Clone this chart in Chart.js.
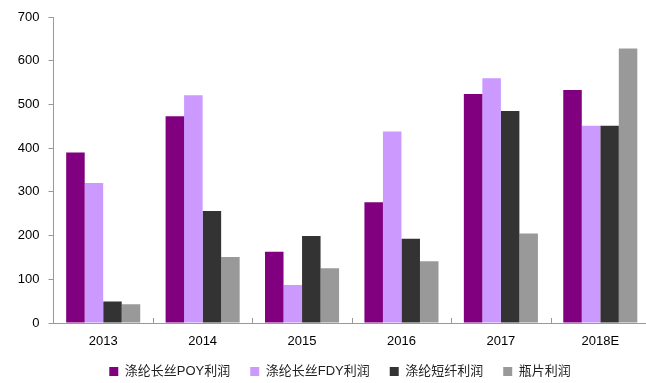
<!DOCTYPE html>
<html>
<head>
<meta charset="utf-8">
<script src="https://cdn.jsdelivr.net/npm/chart.js@4.4.1/dist/chart.umd.min.js"></script>
<style>
  html, body { margin: 0; padding: 0; overflow: hidden; background: #fff; }
  #wrap { width: 680px; height: 383px; }
</style>
</head>
<body>
<div id="wrap"><canvas id="c" width="680" height="383"></canvas></div>
<script>
// Profit by product line, per year (2018 is an estimate)
const years = ['2013', '2014', '2015', '2016', '2017', '2018E'];
const poyProfit = [390, 473, 163, 276, 524, 533];
const fdyProfit = [320, 521, 87, 438, 560, 451];
const stapleProfit = [49, 256, 199, 193, 485, 451];
const bottleProfit = [43, 151, 125, 141, 205, 628];
const yMin = 0, yMax = 700, yStep = 100;

const seriesNames = ['涤纶长丝POY利润', '涤纶长丝FDY利润', '涤纶短纤利润', '瓶片利润'];
const seriesColors = ['#800080', '#CC99FF', '#333333', '#999999'];
const seriesValues = [poyProfit, fdyProfit, stapleProfit, bottleProfit];

const axisColor = '#999999';
const latin = '"Liberation Sans", Arial, sans-serif';
const cjk = '"Liberation Sans", "Noto Sans CJK SC", sans-serif';

// Short upward tick marks at the category boundaries of the x axis
const categoryTicks = {
  id: 'categoryTicks',
  afterDatasetsDraw(chart) {
    const x = chart.scales.x;
    const ctx = chart.ctx;
    const n = chart.data.labels.length;
    const step = x.getPixelForValue(1) - x.getPixelForValue(0);
    const bottom = chart.chartArea.bottom;
    ctx.save();
    ctx.strokeStyle = axisColor;
    ctx.lineWidth = 1;
    for (let i = 1; i <= n; i++) {
      const px = Math.round(x.getPixelForValue(i) - step / 2) + 0.5;
      ctx.beginPath();
      ctx.moveTo(px, bottom);
      ctx.lineTo(px, bottom - 5);
      ctx.stroke();
    }
    ctx.restore();
  }
};

// Fixed legend band height at the bottom
const legendHeight = {
  id: 'legendHeight',
  beforeInit(chart) {
    const lg = chart.legend;
    if (!lg) return;
    const fit = lg.fit.bind(lg);
    lg.fit = function () { fit(); this.height = 38; };
  }
};

new Chart(document.getElementById('c'), {
  type: 'bar',
  data: {
    labels: years,
    datasets: seriesNames.map((name, i) => ({
      label: name,
      data: seriesValues[i],
      backgroundColor: seriesColors[i],
      borderWidth: 0,
      categoryPercentage: 0.745,
      barPercentage: 1.0
    }))
  },
  options: {
    responsive: false,
    animation: false,
    layout: { padding: { left: 0, right: 0, top: 17, bottom: 0 } },
    plugins: {
      legend: {
        position: 'bottom',
        labels: {
          boxWidth: 9,
          boxHeight: 9,
          padding: 20,
          color: '#222',
          font: { family: cjk, size: 13 }
        }
      },
      tooltip: { enabled: false }
    },
    scales: {
      x: {
        afterFit(scale) { scale.height = 22; },
        grid: { display: false },
        border: { color: axisColor, width: 1 },
        ticks: { color: '#000', padding: 3, font: { family: latin, size: 13 } }
      },
      y: {
        min: yMin,
        max: yMax,
        afterFit(scale) { scale.width = 53.5; },
        grid: { drawOnChartArea: false, drawTicks: true, tickLength: 5, color: axisColor },
        border: { color: axisColor, width: 1 },
        ticks: { stepSize: yStep, color: '#000', padding: 9, font: { family: latin, size: 13 } }
      },
      // empty margin on the right so the legend sits centred under the page
      spacer: {
        type: 'linear',
        position: 'right',
        afterFit(scale) { scale.width = 30; },
        grid: { display: false },
        border: { display: false },
        ticks: { display: false }
      }
    }
  },
  plugins: [categoryTicks, legendHeight]
});
</script>
</body>
</html>
